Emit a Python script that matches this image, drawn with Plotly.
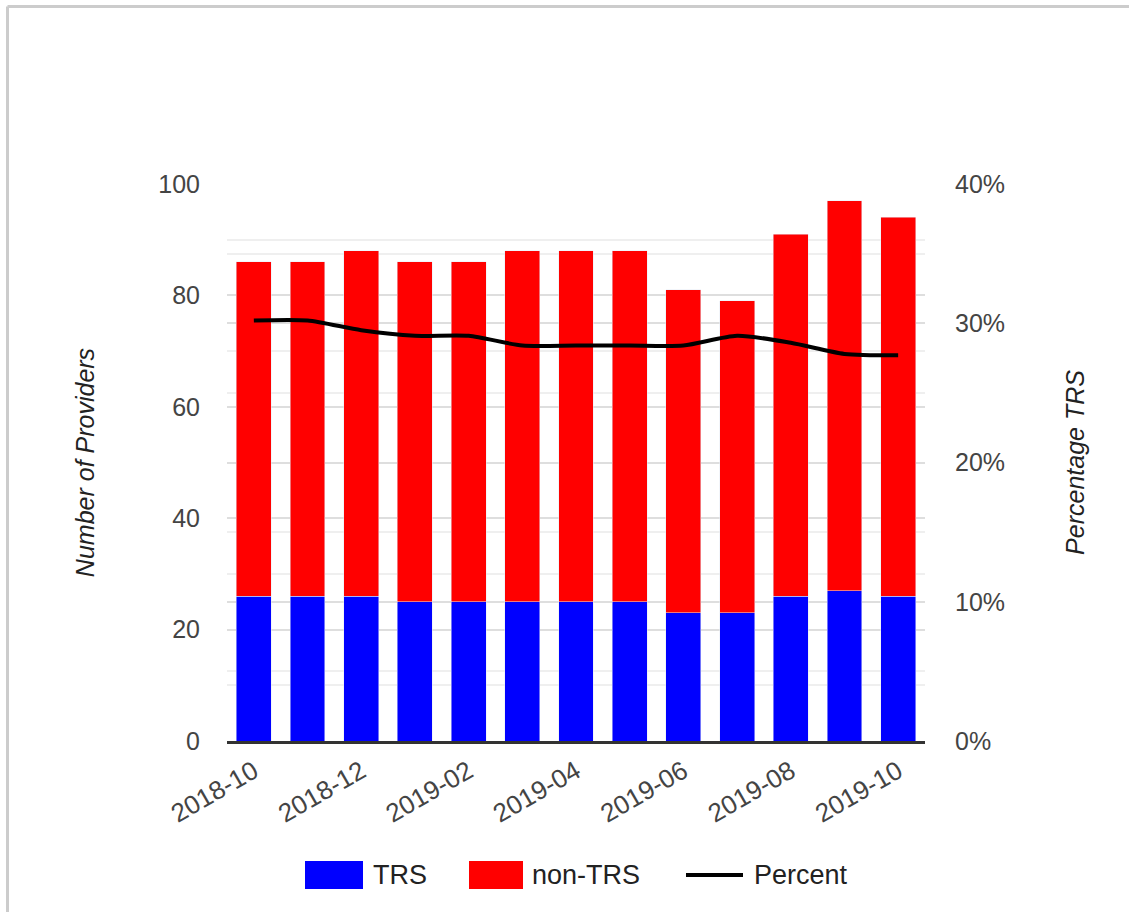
import plotly.graph_objects as go

months = ["2018-10", "2018-11", "2018-12", "2019-01", "2019-02", "2019-03", "2019-04",
          "2019-05", "2019-06", "2019-07", "2019-08", "2019-09", "2019-10"]
trs = [26, 26, 26, 25, 25, 25, 25, 25, 23, 23, 26, 27, 26]
non_trs = [60, 60, 62, 61, 61, 63, 63, 63, 58, 56, 65, 70, 68]
percent = [0.302, 0.302, 0.295, 0.291, 0.291, 0.284, 0.284, 0.284, 0.284, 0.291, 0.286, 0.278, 0.277]
x_ticks = ["2018-10", "2018-12", "2019-02", "2019-04", "2019-06", "2019-08", "2019-10"]
y_ticks = [0, 20, 40, 60, 80, 100]
y2_ticks = [0, 0.1, 0.2, 0.3, 0.4]

W, H = 1129, 912
L, R, T, B = 227, 925, 184, 741


def px(p):
    return (p - L) / (R - L)


def py(p):
    return (B - p) / (B - T)


FONT = "Arial, Liberation Sans, sans-serif"

fig = go.Figure()
fig.add_trace(go.Bar(x=months, y=trs, name="TRS", marker_color="#0000ff", yaxis="y"))
fig.add_trace(go.Bar(x=months, y=non_trs, name="non-TRS", marker_color="#ff0000", yaxis="y"))
fig.add_trace(go.Scatter(x=months, y=percent, name="Percent", mode="lines",
                         line=dict(color="#000000", width=4, shape="spline", smoothing=0.7),
                         yaxis="y2"))

major = "#dedede"
minor = "#efefef"

fig.update_layout(
    width=W, height=H,
    margin=dict(l=L, r=W - R, t=T, b=H - B, autoexpand=False),
    paper_bgcolor="white", plot_bgcolor="white",
    barmode="stack", bargap=0.35,
    showlegend=False,
    font=dict(family=FONT, size=25, color="#444444"),
    xaxis=dict(type="category", tickmode="array", tickvals=x_ticks, ticktext=x_ticks,
               tickangle=-30, showgrid=False, showline=True, linecolor="#333333",
               linewidth=3, ticks="", ticklabelstandoff=2,
               tickfont=dict(size=26, color="#444444")),
    yaxis=dict(range=[0, 100], tickmode="array", tickvals=y_ticks, showgrid=True,
               gridcolor=major, gridwidth=2, zeroline=False, ticks="",
               ticklabelstandoff=26,
               minor=dict(dtick=10, showgrid=True, gridcolor=minor, gridwidth=2),
               title=dict(text="<i>Number of Providers</i>", standoff=56,
                          font=dict(size=25, color="#222222"))),
    yaxis2=dict(range=[0, 0.4], overlaying="y", side="right", tickmode="array",
                tickvals=y2_ticks, tickformat=".0%", showgrid=True, gridcolor=major,
                gridwidth=2, zeroline=False, ticks="", ticklabelstandoff=29,
                minor=dict(dtick=0.05, showgrid=True, gridcolor=minor, gridwidth=2),
                title=dict(text="<i>Percentage TRS</i>", standoff=62,
                           font=dict(size=25, color="#222222"))),
)

shapes = [
    dict(type="line", xref="paper", yref="paper", x0=px(7.5), x1=px(W + 5), y0=py(6.5), y1=py(6.5),
         line=dict(color="#cccccc", width=3)),
    dict(type="line", xref="paper", yref="paper", x0=px(7.5), x1=px(7.5), y0=py(6.5), y1=py(H + 5),
         line=dict(color="#cccccc", width=3)),
    dict(type="rect", xref="paper", yref="paper", x0=px(305), x1=px(363), y0=py(889), y1=py(861),
         fillcolor="#0000ff", line=dict(width=0)),
    dict(type="rect", xref="paper", yref="paper", x0=px(469), x1=px(523), y0=py(889), y1=py(861),
         fillcolor="#ff0000", line=dict(width=0)),
    dict(type="line", xref="paper", yref="paper", x0=px(686), x1=px(743), y0=py(875), y1=py(875),
         line=dict(color="#000000", width=4)),
]
legend_text = [("TRS", 371), ("non-TRS", 530), ("Percent", 752)]
annotations = [
    dict(text=t, x=px(xp), y=py(875), xref="paper", yref="paper", xanchor="left",
         yanchor="middle", showarrow=False, font=dict(size=27, color="#222222", family=FONT))
    for t, xp in legend_text
]
fig.update_layout(shapes=shapes, annotations=annotations)

fig.write_html("out.html")
